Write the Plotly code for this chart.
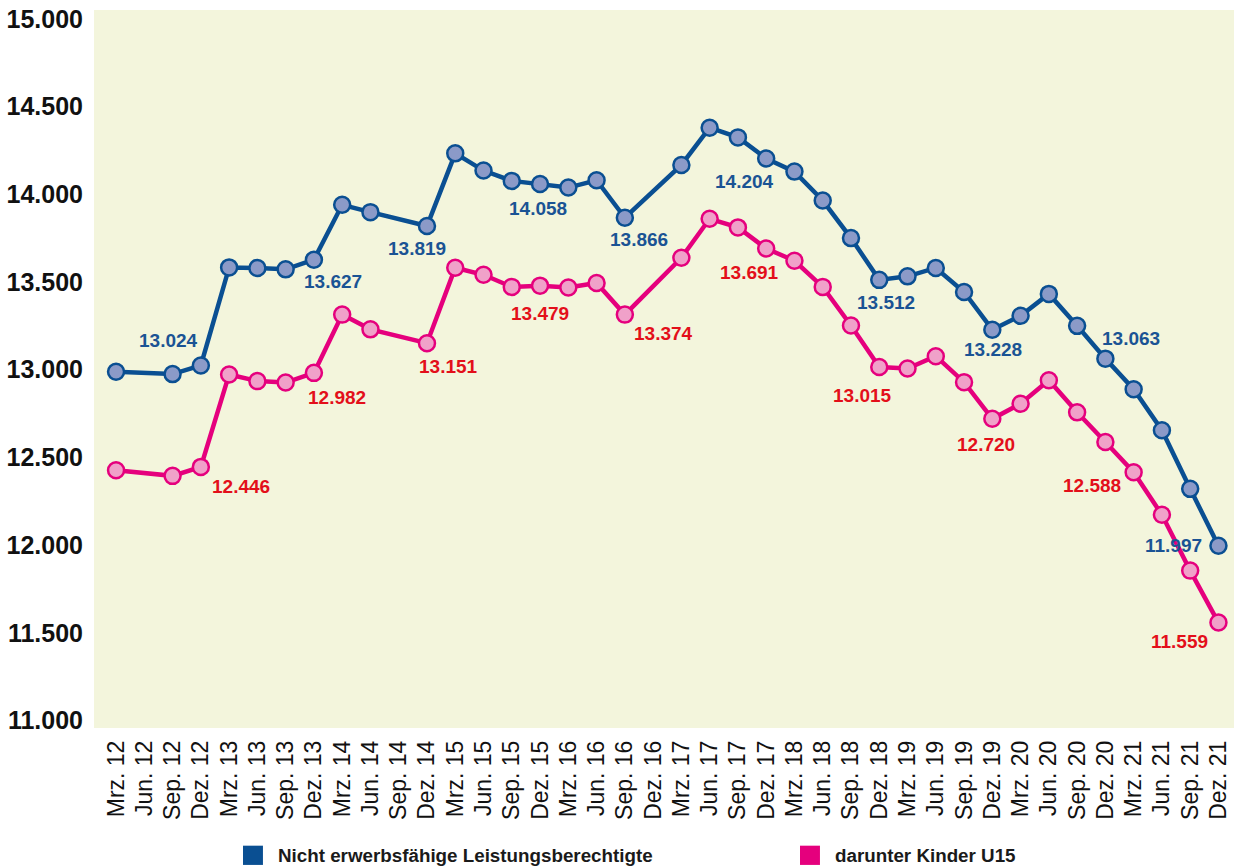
import plotly.graph_objects as go

categories = [
    "Mrz. 12", "Jun. 12", "Sep. 12", "Dez. 12",
    "Mrz. 13", "Jun. 13", "Sep. 13", "Dez. 13",
    "Mrz. 14", "Jun. 14", "Sep. 14", "Dez. 14",
    "Mrz. 15", "Jun. 15", "Sep. 15", "Dez. 15",
    "Mrz. 16", "Jun. 16", "Sep. 16", "Dez. 16",
    "Mrz. 17", "Jun. 17", "Sep. 17", "Dez. 17",
    "Mrz. 18", "Jun. 18", "Sep. 18", "Dez. 18",
    "Mrz. 19", "Jun. 19", "Sep. 19", "Dez. 19",
    "Mrz. 20", "Jun. 20", "Sep. 20", "Dez. 20",
    "Mrz. 21", "Jun. 21", "Sep. 21", "Dez. 21",
]

nef_values = [
    12988, None, 12975, 13024,
    13583, 13580, 13572, 13627,
    13940, 13898, None, 13819,
    14233, 14135, 14076, 14058,
    14038, 14080, 13866, None,
    14167, 14379, 14324, 14204,
    14129, 13964, 13750, 13512,
    13532, 13580, 13443, 13228,
    13307, 13432, 13250, 13063,
    12889, 12655, 12321, 11997,
]

kinder_values = [
    12427, None, 12395, 12446,
    12973, 12935, 12927, 12982,
    13314, 13230, None, 13151,
    13581, 13541, 13472, 13479,
    13468, 13494, 13314, None,
    13638, 13860, 13811, 13691,
    13621, 13472, 13252, 13015,
    13007, 13077, 12929, 12720,
    12806, 12940, 12757, 12588,
    12416, 12173, 11855, 11559,
]

series_names = ["Nicht erwerbsfähige Leistungsberechtigte", "darunter Kinder U15"]

# data labels: category index, text
nef_label_idx = [3, 7, 11, 15, 18, 23, 27, 31, 35, 39]
nef_label_text = ["13.024", "13.627", "13.819", "14.058", "13.866",
                  "14.204", "13.512", "13.228", "13.063", "11.997"]
kinder_label_idx = [3, 7, 11, 15, 18, 23, 27, 31, 35, 39]
kinder_label_text = ["12.446", "12.982", "13.151", "13.479", "13.374",
                     "13.691", "13.015", "12.720", "12.588", "11.559"]

y_tickvals = [11000, 11500, 12000, 12500, 13000, 13500, 14000, 14500, 15000]
y_ticktext = ["11.000", "11.500", "12.000", "12.500", "13.000",
              "13.500", "14.000", "14.500", "15.000"]

# styling
BLUE = "#0a4f92"
BLUE_FILL = "#8b9ac8"
BLUE_TEXT = "#1a5394"
PINK = "#e5007d"
PINK_FILL = "#f0a1c9"
RED_TEXT = "#e30f1a"
BG = "#f3f5dc"
FONT = "Liberation Sans, Arial, sans-serif"

# label offsets (px): dx right, dy down
nef_offsets = [(-32, -25), (19, 22), (-10, 22), (-2, 24), (14, 22),
               (-22, 23), (7, 23), (1, 20), (26, -20), (-45, 0)]
kinder_offsets = [(40, 20), (23, 25), (22, 23), (0, 28), (39, 19),
                  (-17, 24), (-17, 28), (-6, 26), (-13, 44), (-39, 19)]

fig = go.Figure()

fig.add_trace(go.Scatter(
    x=categories, y=nef_values, name=series_names[0],
    mode="lines+markers", connectgaps=True,
    line=dict(color=BLUE, width=4.5),
    marker=dict(size=16, color=BLUE_FILL, line=dict(color=BLUE, width=2.5)),
    showlegend=False,
))
fig.add_trace(go.Scatter(
    x=categories, y=kinder_values, name=series_names[1],
    mode="lines+markers", connectgaps=True,
    line=dict(color=PINK, width=4.5),
    marker=dict(size=16, color=PINK_FILL, line=dict(color=PINK, width=2.5)),
    showlegend=False,
))

annotations = []
for idx, txt, (dx, dy) in zip(nef_label_idx, nef_label_text, nef_offsets):
    annotations.append(dict(
        x=categories[idx], y=nef_values[idx], xref="x", yref="y",
        text=txt, showarrow=False, xshift=dx, yshift=-dy,
        font=dict(family=FONT, size=19, color=BLUE_TEXT, weight="bold"),
    ))
for idx, txt, (dx, dy) in zip(kinder_label_idx, kinder_label_text, kinder_offsets):
    annotations.append(dict(
        x=categories[idx], y=kinder_values[idx], xref="x", yref="y",
        text=txt, showarrow=False, xshift=dx, yshift=-dy,
        font=dict(family=FONT, size=19, color=RED_TEXT, weight="bold"),
    ))

# custom legend
legend_items = [(series_names[0], BLUE, 0.1307), (series_names[1], PINK, 0.6193)]
shapes = []
for name, col, x0 in legend_items:
    shapes.append(dict(type="rect", xref="paper", yref="paper",
                       x0=x0, x1=x0 + 0.0175, y0=-0.1907, y1=-0.1639,
                       fillcolor=col, line=dict(width=0)))
    annotations.append(dict(
        x=x0 + 0.0289, y=-0.1773, xref="paper", yref="paper",
        xanchor="left", yanchor="middle", text=name, showarrow=False,
        font=dict(family=FONT, size=18.8, color="#1a1a1a", weight="bold"),
    ))

fig.update_layout(
    width=1234, height=867,
    margin=dict(l=94, r=0, t=10, b=139),
    paper_bgcolor="white",
    plot_bgcolor=BG,
    showlegend=False,
    annotations=annotations,
    shapes=shapes,
    font=dict(family=FONT),
)

fig.update_xaxes(
    type="category",
    range=[-0.78, 39.55],
    tickangle=-90,
    tickfont=dict(family=FONT, size=23, color="#111111"),
    showgrid=False, zeroline=False, showline=False, ticks="",
    ticklabelstandoff=7,
)
fig.update_yaxes(
    range=[10958, 15050],
    tickvals=y_tickvals, ticktext=y_ticktext,
    tickfont=dict(family=FONT, size=25, color="#111111", weight="bold"),
    showgrid=False, zeroline=False, showline=False, ticks="",
    ticklabelstandoff=10,
)

fig.write_html(
    "out.html",
    config={"displayModeBar": False},
    post_script="document.body.style.margin='0';document.body.style.overflow='hidden';",
)
